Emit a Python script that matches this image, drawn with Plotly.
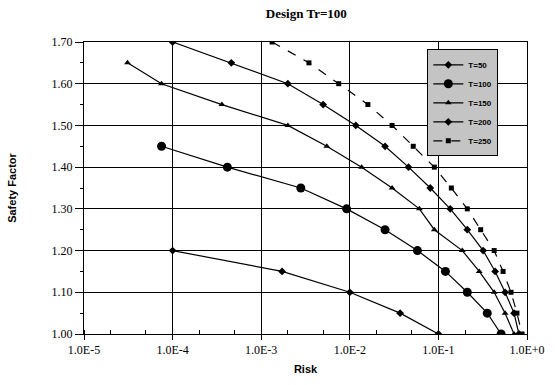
import plotly.graph_objects as go

# ---- data ----
t50_risk = [1.0e-4, 1.72e-3, 1.0e-2, 3.7e-2, 1.0e-1]
t50_sf = [1.20, 1.15, 1.10, 1.05, 1.00]

t100_risk = [7.5e-5, 4.15e-4, 2.8e-3, 9.2e-3, 2.5e-2, 5.8e-2, 0.12, 0.212, 0.356, 0.51]
t100_sf = [1.45, 1.40, 1.35, 1.30, 1.25, 1.20, 1.15, 1.10, 1.05, 1.00]

t150_risk = [3.1e-5, 7.5e-5, 3.6e-4, 2.0e-3, 5.5e-3, 1.36e-2, 3.0e-2, 6.1e-2,
             9.0e-2, 0.186, 0.289, 0.426, 0.566, 0.714]
t150_sf = [1.65, 1.60, 1.55, 1.50, 1.45, 1.40, 1.35, 1.30, 1.25, 1.20, 1.15, 1.10, 1.05, 1.00]

t200_risk = [1.0e-4, 4.6e-4, 2.0e-3, 5.0e-3, 1.17e-2, 2.5e-2, 4.6e-2, 8.1e-2,
             0.136, 0.212, 0.32, 0.437, 0.566, 0.714, 0.81]
t200_sf = [1.70, 1.65, 1.60, 1.55, 1.50, 1.45, 1.40, 1.35, 1.30, 1.25, 1.20, 1.15, 1.10, 1.05, 1.00]

t250_risk = [1.33e-3, 3.46e-3, 7.5e-3, 1.6e-2, 3.0e-2, 5.2e-2, 9.0e-2, 0.14,
             0.212, 0.30, 0.426, 0.537, 0.66, 0.77, 0.88]
t250_sf = [1.70, 1.65, 1.60, 1.55, 1.50, 1.45, 1.40, 1.35, 1.30, 1.25, 1.20, 1.15, 1.10, 1.05, 1.00]

series_names = ["T=50", "T=100", "T=150", "T=200", "T=250"]
x_tick_vals = [1e-5, 1e-4, 1e-3, 1e-2, 1e-1, 1e0]
x_tick_text = ["1.0E-5", "1.0E-4", "1.0E-3", "1.0E-2", "1.0E-1", "1.0E+0"]
y_tick_vals = [1.00, 1.10, 1.20, 1.30, 1.40, 1.50, 1.60, 1.70]

serif = "Liberation Serif"
sans = "Liberation Sans"

fig = go.Figure()

styles = [
    (t50_risk, t50_sf, "diamond", 6, "solid"),
    (t100_risk, t100_sf, "circle", 9, "solid"),
    (t150_risk, t150_sf, "triangle-up", 6, "solid"),
    (t200_risk, t200_sf, "diamond", 6, "solid"),
    (t250_risk, t250_sf, "square", 5, "dash"),
]
for name, (xs, ys, sym, size, dash) in zip(series_names, styles):
    fig.add_trace(go.Scatter(
        x=xs, y=ys, name="<b>" + name + "</b>", mode="lines+markers",
        line=dict(color="black", width=1.2, dash=dash),
        marker=dict(symbol=sym, size=size, color="black"),
    ))

fig.update_layout(
    width=557, height=385,
    margin=dict(l=84, r=28, t=42, b=49),
    paper_bgcolor="white", plot_bgcolor="white",
    title=dict(text="<b>Design Tr=100</b>", x=0.55, xanchor="center", y=0.965, yanchor="middle",
               font=dict(family=serif, size=13, color="black")),
    showlegend=True,
    legend=dict(x=0.775, y=0.975, xanchor="left", yanchor="top",
                bgcolor="#c4c4c4", bordercolor="black", borderwidth=1,
                font=dict(family=sans, size=8, color="black"),
                itemwidth=30, tracegroupgap=0),
)

fig.update_xaxes(
    type="log", range=[-5, 0],
    tickvals=x_tick_vals, ticktext=x_tick_text,
    tickfont=dict(family=serif, size=12, color="black"),
    showgrid=True, gridcolor="black", gridwidth=1,
    showline=True, linecolor="black", linewidth=1, mirror=True,
    ticks="outside", ticklen=5, tickcolor="black",
    minor=dict(ticks="inside", ticklen=4, tickcolor="black", showgrid=False),
    title=dict(text="<b>Risk</b>", font=dict(family=sans, size=11, color="black"), standoff=8),
    zeroline=False,
)
fig.update_yaxes(
    range=[1.0, 1.70],
    tickvals=y_tick_vals, tickformat=".2f",
    tickfont=dict(family=serif, size=12, color="black"),
    showgrid=True, gridcolor="black", gridwidth=1,
    showline=True, linecolor="black", linewidth=1, mirror=True,
    ticks="outside", ticklen=8, tickcolor="black",
    minor=dict(dtick=0.05, ticks="outside", ticklen=3, tickcolor="black", showgrid=False),
    title=dict(text="<b>Safety Factor</b>", font=dict(family=sans, size=11, color="black"), standoff=32),
    zeroline=False,
)

fig.write_html("out.html")
